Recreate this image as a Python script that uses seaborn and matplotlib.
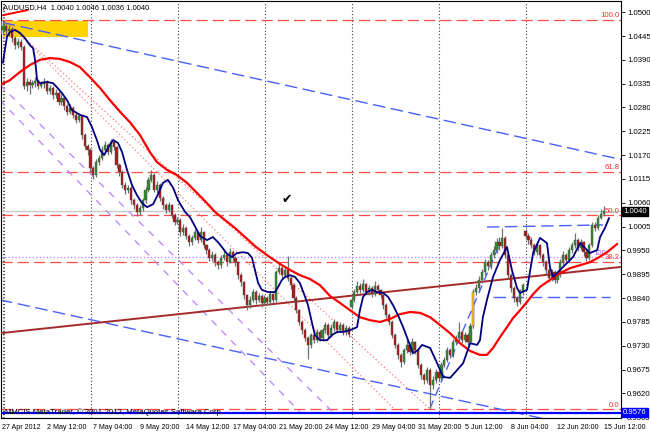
import pandas as pd
import matplotlib
matplotlib.use('Agg')
import matplotlib.pyplot as plt
import seaborn as sns

sns.set_style('white')
plt.rcParams['font.family'] = ['Liberation Sans', 'DejaVu Sans']

# ─── data (AUDUSD H4) ─────────────────────────────────────
closes = [
    1.0459, 1.0468, 1.0456, 1.0461, 1.0440, 1.0424, 1.0431, 1.0420, 1.0330, 1.0339,
    1.0332, 1.0336, 1.0341, 1.0330, 1.0334, 1.0339, 1.0318, 1.0325, 1.0309, 1.0313,
    1.0293, 1.0302, 1.0283, 1.0270, 1.0279, 1.0263, 1.0251, 1.0260, 1.0216, 1.0191,
    1.0182, 1.0140, 1.0124, 1.0154, 1.0163, 1.0182, 1.0193, 1.0177, 1.0200, 1.0189,
    1.0147, 1.0131, 1.0101, 1.0090, 1.0094, 1.0066, 1.0055, 1.0039, 1.0048, 1.0066,
    1.0090, 1.0113, 1.0124, 1.0090, 1.0101, 1.0071, 1.0055, 1.0043, 1.0055, 1.0032,
    1.0016, 1.0020, 0.9992, 1.0002, 0.9983, 0.9969, 0.9979, 0.9992, 0.9974, 0.9992,
    0.9962, 0.9951, 0.9933, 0.9939, 0.9923, 0.9916, 0.9933, 0.9939, 0.9923, 0.9946,
    0.9933, 0.9923, 0.9893, 0.9877, 0.9847, 0.9824, 0.9836, 0.9854, 0.9836, 0.9845,
    0.9829, 0.9840, 0.9831, 0.9849, 0.9836, 0.9900, 0.9910, 0.9893, 0.9905, 0.9886,
    0.9870, 0.9840, 0.9812, 0.9785, 0.9766, 0.9748, 0.9732, 0.9755, 0.9743, 0.9762,
    0.9748, 0.9766, 0.9778, 0.9755, 0.9771, 0.9785, 0.9766, 0.9778, 0.9762, 0.9771,
    0.9757, 0.9836, 0.9854, 0.9868, 0.9859, 0.9872, 0.9854, 0.9863, 0.9849, 0.9868,
    0.9859, 0.9847, 0.9824, 0.9801, 0.9785, 0.9755, 0.9732, 0.9709, 0.9692, 0.9720,
    0.9732, 0.9716, 0.9739, 0.9720, 0.9686, 0.9662, 0.9651, 0.9674, 0.9639, 0.9651,
    0.9669, 0.9656, 0.9686, 0.9697, 0.9720, 0.9709, 0.9739, 0.9748, 0.9762, 0.9743,
    0.9755, 0.9739, 0.9776, 0.9854, 0.9863, 0.9882, 0.9900, 0.9923, 0.9914, 0.9939,
    0.9951, 0.9969, 0.9960, 0.9979, 0.9939, 0.9893, 0.9863, 0.9840, 0.9831, 0.9854,
    0.9870, 0.9983, 0.9974, 0.9962, 0.9946, 0.9962, 0.9939, 0.9923, 0.9905, 0.9886,
    0.9900, 0.9882, 0.9893, 0.9923, 0.9939, 0.9928, 0.9951, 0.9962, 0.9974, 0.9956,
    0.9969, 0.9946, 0.9933, 0.9962, 1.0009, 1.0002, 1.0025, 1.0034, 1.0040,
]
highs = [
    1.0482, 1.0478, 1.0474, 1.0470, 1.0466, 1.0446, 1.0440, 1.0438, 1.0425, 1.0348,
    1.0345, 1.0344, 1.0350, 1.0346, 1.0342, 1.0348, 1.0344, 1.0332, 1.0330, 1.0322,
    1.0318, 1.0310, 1.0306, 1.0288, 1.0287, 1.0284, 1.0268, 1.0266, 1.0263, 1.0220,
    1.0196, 1.0186, 1.0145, 1.0160, 1.0170, 1.0190, 1.0202, 1.0198, 1.0208, 1.0206,
    1.0192, 1.0152, 1.0136, 1.0108, 1.0102, 1.0098, 1.0072, 1.0060, 1.0056, 1.0072,
    1.0096, 1.0120, 1.0136, 1.0128, 1.0110, 1.0106, 1.0076, 1.0060, 1.0062, 1.0058,
    1.0036, 1.0028, 1.0024, 1.0010, 1.0006, 0.9988, 0.9986, 1.0000, 0.9996, 1.0004,
    0.9995, 0.9966, 0.9955, 0.9948, 0.9944, 0.9928, 0.9940, 0.9948, 0.9944, 0.9956,
    0.9950, 0.9938, 0.9926, 0.9898, 0.9880, 0.9850, 0.9845, 0.9860, 0.9858, 0.9852,
    0.9850, 0.9848, 0.9846, 0.9856, 0.9852, 0.9906, 0.9922, 0.9915, 0.9912, 0.9938,
    0.9892, 0.9874, 0.9845, 0.9816, 0.9790, 0.9770, 0.9752, 0.9760, 0.9762, 0.9768,
    0.9766, 0.9772, 0.9786, 0.9782, 0.9780, 0.9792, 0.9788, 0.9786, 0.9782, 0.9778,
    0.9776, 0.9842, 0.9862, 0.9880, 0.9874, 0.9885, 0.9876, 0.9870, 0.9868, 0.9880,
    0.9872, 0.9862, 0.9850, 0.9828, 0.9806, 0.9790, 0.9760, 0.9736, 0.9714, 0.9726,
    0.9745, 0.9736, 0.9748, 0.9742, 0.9724, 0.9690, 0.9668, 0.9680, 0.9678, 0.9660,
    0.9676, 0.9674, 0.9692, 0.9705, 0.9728, 0.9726, 0.9746, 0.9756, 0.9785, 0.9766,
    0.9762, 0.9760, 0.9782, 0.9860, 0.9872, 0.9890, 0.9908, 0.9930, 0.9928, 0.9946,
    0.9960, 0.9978, 0.9980, 1.0002, 0.9984, 0.9944, 0.9898, 0.9868, 0.9846, 0.9860,
    0.9876, 1.0000, 0.9990, 0.9980, 0.9968, 0.9970, 0.9966, 0.9944, 0.9928, 0.9910,
    0.9908, 0.9905, 0.9900, 0.9930, 0.9948, 0.9944, 0.9958, 0.9970, 0.9990, 0.9978,
    0.9976, 0.9972, 0.9950, 0.9968, 1.0015, 1.0016, 1.0032, 1.0046, 1.0052,
]
lows = [
    1.0450, 1.0452, 1.0448, 1.0445, 1.0432, 1.0415, 1.0418, 1.0412, 1.0322, 1.0318,
    1.0310, 1.0325, 1.0328, 1.0322, 1.0324, 1.0326, 1.0310, 1.0312, 1.0300, 1.0302,
    1.0285, 1.0286, 1.0275, 1.0262, 1.0265, 1.0255, 1.0244, 1.0246, 1.0208, 1.0184,
    1.0170, 1.0130, 1.0114, 1.0120, 1.0148, 1.0158, 1.0176, 1.0170, 1.0172, 1.0182,
    1.0140, 1.0122, 1.0094, 1.0080, 1.0082, 1.0058, 1.0046, 1.0030, 1.0033, 1.0042,
    1.0060, 1.0085, 1.0108, 1.0084, 1.0082, 1.0064, 1.0046, 1.0036, 1.0038, 1.0024,
    1.0008, 1.0010, 0.9984, 0.9986, 0.9976, 0.9960, 0.9962, 0.9974, 0.9968, 0.9970,
    0.9955, 0.9942, 0.9925, 0.9926, 0.9915, 0.9908, 0.9910, 0.9928, 0.9915, 0.9920,
    0.9926, 0.9915, 0.9885, 0.9868, 0.9838, 0.9812, 0.9818, 0.9830, 0.9826, 0.9830,
    0.9820, 0.9824, 0.9824, 0.9826, 0.9828, 0.9832, 0.9895, 0.9886, 0.9888, 0.9880,
    0.9862, 0.9832, 0.9805, 0.9778, 0.9758, 0.9740, 0.9700, 0.9725, 0.9736, 0.9738,
    0.9740, 0.9742, 0.9760, 0.9748, 0.9750, 0.9765, 0.9760, 0.9762, 0.9755, 0.9756,
    0.9750, 0.9815, 0.9830, 0.9848, 0.9852, 0.9854, 0.9848, 0.9848, 0.9842, 0.9845,
    0.9852, 0.9840, 0.9816, 0.9794, 0.9778, 0.9748, 0.9724, 0.9700, 0.9682, 0.9688,
    0.9714, 0.9708, 0.9712, 0.9712, 0.9678, 0.9654, 0.9642, 0.9645, 0.9584, 0.9630,
    0.9645, 0.9648, 0.9650, 0.9680, 0.9692, 0.9702, 0.9704, 0.9732, 0.9742, 0.9736,
    0.9738, 0.9732, 0.9734, 0.9772, 0.9848, 0.9856, 0.9876, 0.9894, 0.9906, 0.9908,
    0.9932, 0.9944, 0.9952, 0.9955, 0.9932, 0.9886, 0.9855, 0.9830, 0.9822, 0.9826,
    0.9848, 0.9976, 0.9966, 0.9955, 0.9940, 0.9940, 0.9932, 0.9915, 0.9896, 0.9878,
    0.9880, 0.9875, 0.9876, 0.9888, 0.9916, 0.9920, 0.9922, 0.9945, 0.9956, 0.9948,
    0.9950, 0.9938, 0.9925, 0.9928, 0.9958, 0.9995, 0.9998, 1.0022, 1.0030,
]
first_open = 1.0465
gap_opens = {121: 0.9820, 181: 0.9995}   # weekly gaps
yellow_bars = [163]

# moving averages (traced vertices: bar position, price)
ma_fast_bar = [0.8, 2.2, 3.2, 5.0, 6.7, 8.4, 10.1, 11.2, 11.9, 12.6, 13.6, 16.0, 18.1, 19.4,
               21.2, 22.9, 24.6, 27.4, 29.8, 31.5, 33.2, 34.3, 35.7, 37.0, 38.8, 40.5, 41.9,
               43.6, 45.3, 47.0, 48.8, 50.5, 52.6, 54.3, 56.0, 57.7, 59.4, 61.2, 63.6, 65.3,
               67.0, 68.8, 71.2, 73.2, 75.0, 76.3, 78.1, 79.8, 81.5, 83.6, 85.3, 86.7, 87.7,
               88.8, 90.1, 92.2, 94.6, 95.7, 97.0, 98.1, 99.8, 101.5, 103.2, 105.0, 106.0,
               107.4, 108.4, 110.1, 112.6, 114.3, 116.0, 118.1, 120.5, 122.9, 123.9, 125.0,
               126.3, 128.1, 129.8, 131.9, 133.6, 135.3, 137.0, 138.8, 140.5, 142.2, 143.9,
               145.3, 148.1, 150.5, 152.6, 155.0, 157.4, 159.5, 161.9, 164.3, 165.3, 166.3,
               167.7, 169.8, 172.2, 174.6, 176.3, 178.1, 179.1, 181.5, 183.6, 186.0, 188.4,
               189.4, 190.5, 192.9, 195.3, 197.4, 199.8, 202.2, 203.2, 205.7, 206.7, 208.4,
               209.8]
ma_fast = [1.0383, 1.0443, 1.0454, 1.0459, 1.0452, 1.0440, 1.0424, 1.0417, 1.0390, 1.0343,
           1.0336, 1.0339, 1.0336, 1.0327, 1.0313, 1.0297, 1.0274, 1.0263, 1.0258, 1.0235,
           1.0205, 1.0182, 1.0170, 1.0186, 1.0205, 1.0198, 1.0177, 1.0136, 1.0101, 1.0078,
           1.0059, 1.0050, 1.0057, 1.0080, 1.0106, 1.0113, 1.0096, 1.0066, 1.0039, 1.0027,
           1.0006, 0.9983, 0.9974, 0.9981, 0.9969, 0.9958, 0.9942, 0.9935, 0.9944, 0.9946,
           0.9944, 0.9933, 0.9905, 0.9875, 0.9859, 0.9854, 0.9854, 0.9866, 0.9882, 0.9889,
           0.9893, 0.9889, 0.9875, 0.9843, 0.9824, 0.9782, 0.9755, 0.9743, 0.9743, 0.9755,
           0.9762, 0.9762, 0.9766, 0.9773, 0.9812, 0.9843, 0.9854, 0.9859, 0.9854, 0.9852,
           0.9843, 0.9824, 0.9801, 0.9773, 0.9743, 0.9713, 0.9720, 0.9732, 0.9725, 0.9690,
           0.9658, 0.9656, 0.9674, 0.9690, 0.9736, 0.9732, 0.9743, 0.9796, 0.9836, 0.9889,
           0.9928, 0.9958, 0.9905, 0.9863, 0.9852, 0.9859, 0.9944, 0.9979, 0.9967, 0.9912,
           0.9889, 0.9905, 0.9921, 0.9935, 0.9967, 0.9951, 0.9944, 0.9951, 0.9981, 1.0002,
           1.0025]
ma_slow_bar = [-0.2, 3.2, 6.7, 10.1, 13.6, 17.0, 20.5, 23.9, 27.4, 30.8, 34.3, 37.7, 41.2,
               44.6, 48.1, 51.5, 53.9, 57.4, 60.8, 64.3, 67.7, 71.2, 73.9, 77.4, 80.8, 84.3,
               87.7, 91.9, 96.3, 99.8, 103.2, 106.7, 110.1, 113.6, 117.0, 120.5, 123.9,
               127.4, 130.8, 134.3, 137.7, 141.2, 144.6, 148.1, 151.5, 155.0, 158.4, 161.9,
               165.3, 167.7, 169.8, 172.2, 174.6, 176.7, 179.1, 181.5, 183.6, 186.0, 189.4,
               192.9, 196.3, 199.8, 203.2, 206.0, 209.1, 212.6]
ma_slow = [1.0332, 1.0343, 1.0362, 1.0378, 1.0390, 1.0394, 1.0392, 1.0385, 1.0373, 1.0350,
           1.0325, 1.0297, 1.0270, 1.0246, 1.0216, 1.0177, 1.0154, 1.0136, 1.0124, 1.0106,
           1.0083, 1.0059, 1.0039, 1.0020, 1.0002, 0.9981, 0.9960, 0.9939, 0.9919, 0.9905,
           0.9893, 0.9884, 0.9870, 0.9845, 0.9829, 0.9812, 0.9796, 0.9789, 0.9785, 0.9792,
           0.9803, 0.9808, 0.9806, 0.9796, 0.9778, 0.9759, 0.9736, 0.9718, 0.9709, 0.9709,
           0.9725, 0.9750, 0.9773, 0.9794, 0.9812, 0.9831, 0.9849, 0.9866, 0.9882, 0.9898,
           0.9909, 0.9916, 0.9923, 0.9933, 0.9946, 0.9965]
ma_long_bar = [0.8, 9.4]
ma_long = [1.0493, 1.0505]

# drawn objects (anchor bar positions and prices)
fib_names = ['100.0', '61.8', '50.0', '38.2', '0.0']
fib_prices = [1.0482, 1.0132, 1.0031, 0.9924, 0.9583]
fib_anchor_bar = [1.5, 148.1]
fib_anchor_price = [1.0482, 0.9584]
fan_bar = [1.5, 136.0]
fan_price = [1.0482, 0.9582]
trend_down_bar = [0.8, 213.9]
trend_down_price = [1.0476, 1.0160]
trend_low_bar = [-0.2, 187.7]
trend_low_price = [0.9836, 0.9561]
trend_brown_bar = [-0.2, 213.9]
trend_brown_price = [0.9759, 0.9912]
box_top_bar = [167.7, 207.7]
box_top_price = [1.0004, 1.0009]
box_bot_bar = [169.8, 210.1]
box_bot_price = [0.9843, 0.9843]
rise_bar = [148.1, 172.2]
rise_price = [0.9586, 0.9967]
violet_a_bar = [-0.2, 114.6]
violet_a_price = [1.0332, 0.9577]
violet_b_bar = [-0.2, 103.2]
violet_b_price = [1.0297, 0.9577]
violet_level = 0.9935
support_level = 0.9576
bid = 1.0040
zone_bar = [0.8, 30.1]
zone_price = [1.0443, 1.0480]

# ─── time axis ───────────────────────────────────────────
times = pd.date_range('2012-04-27 20:00', '2012-06-15 12:00', freq='4h')
times = times[times.dayofweek < 5]
n = len(closes)
bars = list(range(n))
opens = [first_open] + closes[:-1]
for k, v in gap_opens.items():
    opens[k] = v

FS = 5.6
BLUE = '#4860ff'
VIOLET = '#c08cff'
fig = plt.figure(figsize=(6.5, 4.33), dpi=100)
ax = fig.add_axes([0.0015, 0.0346, 0.9538, 0.963])

# highlighted zone
ax.fill_between(zone_bar, zone_price[0], zone_price[1], color='#ffd200', lw=0, zorder=1)

# week separators
for i, t in enumerate(times[:n]):
    if t.dayofweek == 0 and t.hour == 0:
        ax.axvline(i + 0.3, color='#404040', lw=0.8, ls=(0, (1, 2)), zorder=1)
ax.axvline(0.9, color='#404040', lw=0.8, ls=(0, (1, 2)), zorder=1)

# horizontal levels
for name, lvl in zip(fib_names, fib_prices):
    ax.axhline(lvl, color='#ff4a4a', lw=0.9, ls=(0, (9, 4)), zorder=2)
    ax.text(213.4, lvl + 0.0002, name, ha='right', va='bottom', color='#ff3030', fontsize=FS)
ax.axhline(violet_level, color=VIOLET, lw=1.0, ls=(0, (1, 1.5)), zorder=2)
ax.text(209.0, violet_level + 0.0001, '100', ha='right', va='bottom', color='#a860ff', fontsize=FS)
ax.axhline(bid, color='#c8c8c8', lw=1.0, zorder=2)
ax.axhline(support_level, color='#0000ff', lw=1.6, zorder=3)

# trend lines
ax.plot(fib_anchor_bar, fib_anchor_price, color='#ff7070', lw=0.9, ls=(0, (1, 2)), zorder=2)
ax.plot(fan_bar, fan_price, color='#ff8080', lw=0.9, ls=(0, (1, 2)), zorder=2)
ax.plot(trend_down_bar, trend_down_price, color=BLUE, lw=1.0, ls=(0, (9, 4)), zorder=2)
ax.plot(trend_low_bar, trend_low_price, color=BLUE, lw=1.0, ls=(0, (9, 4)), zorder=2)
ax.plot(box_top_bar, box_top_price, color=BLUE, lw=1.0, ls=(0, (9, 4)), zorder=2)
ax.plot(box_bot_bar, box_bot_price, color=BLUE, lw=1.0, ls=(0, (9, 4)), zorder=2)
ax.plot(rise_bar, rise_price, color=BLUE, lw=1.0, ls=(0, (6, 4)), zorder=2)
ax.plot(violet_a_bar, violet_a_price, color=VIOLET, lw=1.0, ls=(0, (5, 5)), zorder=2)
ax.plot(violet_b_bar, violet_b_price, color=VIOLET, lw=1.0, ls=(0, (5, 5)), zorder=2)
ax.plot(trend_brown_bar, trend_brown_price, color='#a52a2a', lw=1.4, zorder=4)

# candles
body_lo = [min(o, c) for o, c in zip(opens, closes)]
body_h = [max(abs(c - o), 0.00006) for o, c in zip(opens, closes)]
colors = []
for i, (o, c) in enumerate(zip(opens, closes)):
    if i in yellow_bars:
        colors.append('#ffd200')
    elif c >= o:
        colors.append('#2e8b2e')
    else:
        colors.append('#b01818')
ax.vlines(bars, lows, highs, color='#707070', lw=0.9, zorder=5)
ax.bar(bars, body_h, bottom=body_lo, width=0.75, color=colors, edgecolor='#505050',
       linewidth=0.3, zorder=6)

# moving averages
sns.lineplot(x=ma_long_bar, y=ma_long, color='#ff0000', lw=1.4, sort=False,
             estimator=None, ax=ax, zorder=7)
sns.lineplot(x=ma_slow_bar, y=ma_slow, color='#ff0000', lw=1.6, sort=False,
             estimator=None, ax=ax, zorder=7)
sns.lineplot(x=ma_fast_bar, y=ma_fast, color='#000080', lw=1.3, sort=False,
             estimator=None, ax=ax, zorder=8)

# axes
ax.set_xlim(0.14, 213.9)
ax.set_ylim(0.95633, 1.05257)
ax.set_xlabel('')
ax.set_ylabel('')
ax.yaxis.tick_right()
yt = [round(1.0500 - 0.0055 * k, 4) for k in range(18)]
ax.set_yticks(yt)
ax.set_yticklabels([f'{v:.4f}' for v in yt])
xt = [0.5] + list(range(16, n + 1, 16))
xl = ['27 Apr 2012'] + [f'{times[i].day} {times[i]:%b %H:%M}' if i < n else '15 Jun 12:00'
                        for i in range(16, n + 1, 16)]
ax.set_xticks(xt)
ax.set_xticklabels(xl, ha='left')
ax.tick_params(axis='both', labelsize=FS, length=3, width=0.6, pad=1.5, colors='black')
ax.tick_params(axis='x', labelsize=5.1)
for s in ax.spines.values():
    s.set_color('black')
    s.set_linewidth(0.8)

# price tags
ax.annotate(f'{bid:.4f}', xy=(1.0, bid), xycoords=('axes fraction', 'data'),
            xytext=(1.5, 0), textcoords='offset points', va='center', ha='left',
            fontsize=FS, color='white', bbox=dict(boxstyle='square,pad=0.12', fc='black', ec='black'))
ax.annotate(f'{support_level:.4f}', xy=(1.0, support_level), xycoords=('axes fraction', 'data'),
            xytext=(1.5, 0), textcoords='offset points', va='center', ha='left',
            fontsize=FS, color='white', bbox=dict(boxstyle='square,pad=0.12', fc='#0000ff', ec='#0000ff'))

ax.text(0.004, 0.993, 'AUDUSD,H4  1.0040 1.0046 1.0036 1.0040', transform=ax.transAxes,
        ha='left', va='top', fontsize=5.4, color='black', zorder=10)
ax.text(0.006, 0.004, 'MMCIS MetaTrader, © 2001-2012, MetaQuotes Software Corp.',
        transform=ax.transAxes, ha='left', va='bottom', fontsize=5.6, color='black', zorder=10)
ax.text(98.8, 1.0066, '✔', ha='center', va='center', fontsize=9, color='black')

fig.savefig('out.png', dpi=100)
